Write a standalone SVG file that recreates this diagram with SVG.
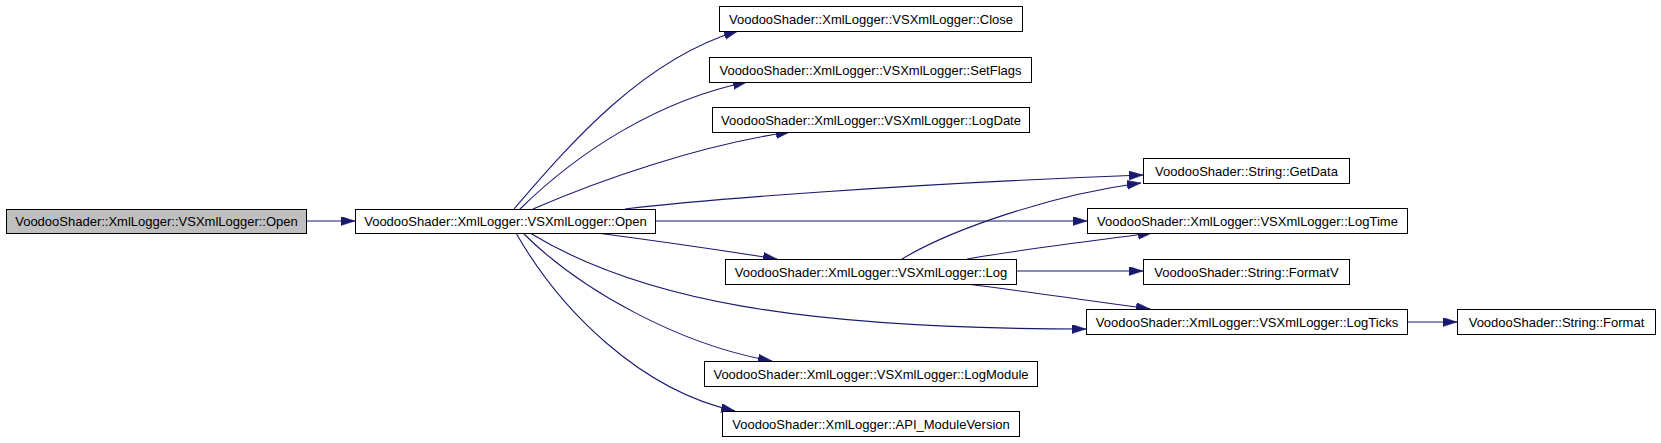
<svg xmlns="http://www.w3.org/2000/svg" width="1661" height="443" viewBox="0 0 1661 443">
<defs>
<style>
.n rect{fill:#ffffff;stroke:#000000;stroke-width:1}
.n.g rect{fill:#bfbfbf}
.n text{font-family:"Liberation Sans",Arial,sans-serif;font-size:13px;fill:#000000;text-anchor:middle}
.e path{fill:none;stroke:#191970;stroke-width:1.1;marker-end:url(#ah)}
</style>
<marker id="ah" markerUnits="userSpaceOnUse" markerWidth="15" markerHeight="10" refX="14" refY="4.5" orient="auto">
<path d="M0,0 L14,4.5 L0,9 z" fill="#191970" stroke="#191970" stroke-width="0.5"/>
</marker>
</defs>
<rect width="1661" height="443" fill="#ffffff"/>
<g id="edges" class="e">
<path d="M306,221 L355,221"/>
<path d="M514,209 C565,150 640,60 738,31"/>
<path d="M520,209 C580,150 660,100 747,82"/>
<path d="M533,209 C600,180 700,145 790,132"/>
<path d="M625,209 C700,200 900,184 1143,175"/>
<path d="M655,221 L1087,221"/>
<path d="M597,233 C650,240 720,250 777,259"/>
<path d="M530,233 C640,300 800,329 1086,329"/>
<path d="M523,233 C580,290 680,345 772,361"/>
<path d="M516,233 C560,310 640,390 735,411"/>
<path d="M902,259 C950,230 1050,195 1141,183"/>
<path d="M967,259 C1030,248 1100,240 1152,233"/>
<path d="M1016,271 L1143,271"/>
<path d="M967,284 C1030,292 1100,302 1150,309"/>
<path d="M1407,322 L1457,322"/>
</g>
<g id="n_xml_open_caller" class="n g"><rect x="6.5" y="209.5" width="300" height="24"/><text x="156.5" y="226">VoodooShader::XmlLogger::VSXmlLogger::Open</text></g>
<g id="n_open" class="n"><rect x="355.5" y="209.5" width="300" height="24"/><text x="505.5" y="226">VoodooShader::XmlLogger::VSXmlLogger::Open</text></g>
<g id="n_close" class="n"><rect x="719.5" y="6.5" width="303" height="25"/><text x="871" y="23.5">VoodooShader::XmlLogger::VSXmlLogger::Close</text></g>
<g id="n_setflags" class="n"><rect x="709.5" y="57.5" width="322" height="25"/><text x="870.5" y="74.5">VoodooShader::XmlLogger::VSXmlLogger::SetFlags</text></g>
<g id="n_logdate" class="n"><rect x="712.5" y="107.5" width="317" height="25"/><text x="871" y="124.5">VoodooShader::XmlLogger::VSXmlLogger::LogDate</text></g>
<g id="n_getdata" class="n"><rect x="1143.5" y="158.5" width="206" height="25"/><text x="1246.5" y="175.5">VoodooShader::String::GetData</text></g>
<g id="n_logtime" class="n"><rect x="1087.5" y="208.5" width="320" height="25"/><text x="1247.5" y="225.5">VoodooShader::XmlLogger::VSXmlLogger::LogTime</text></g>
<g id="n_log" class="n"><rect x="725.5" y="259.5" width="291" height="25"/><text x="871" y="276.5">VoodooShader::XmlLogger::VSXmlLogger::Log</text></g>
<g id="n_formatv" class="n"><rect x="1143.5" y="259.5" width="206" height="25"/><text x="1246.5" y="276.5">VoodooShader::String::FormatV</text></g>
<g id="n_logticks" class="n"><rect x="1086.5" y="309.5" width="321" height="25"/><text x="1247" y="326.5">VoodooShader::XmlLogger::VSXmlLogger::LogTicks</text></g>
<g id="n_format" class="n"><rect x="1457.5" y="309.5" width="198" height="25"/><text x="1556.5" y="326.5">VoodooShader::String::Format</text></g>
<g id="n_logmodule" class="n"><rect x="704.5" y="361.5" width="333" height="25"/><text x="871" y="378.5">VoodooShader::XmlLogger::VSXmlLogger::LogModule</text></g>
<g id="n_api" class="n"><rect x="722.5" y="411.5" width="297" height="25"/><text x="871" y="428.5">VoodooShader::XmlLogger::API_ModuleVersion</text></g>
</svg>
